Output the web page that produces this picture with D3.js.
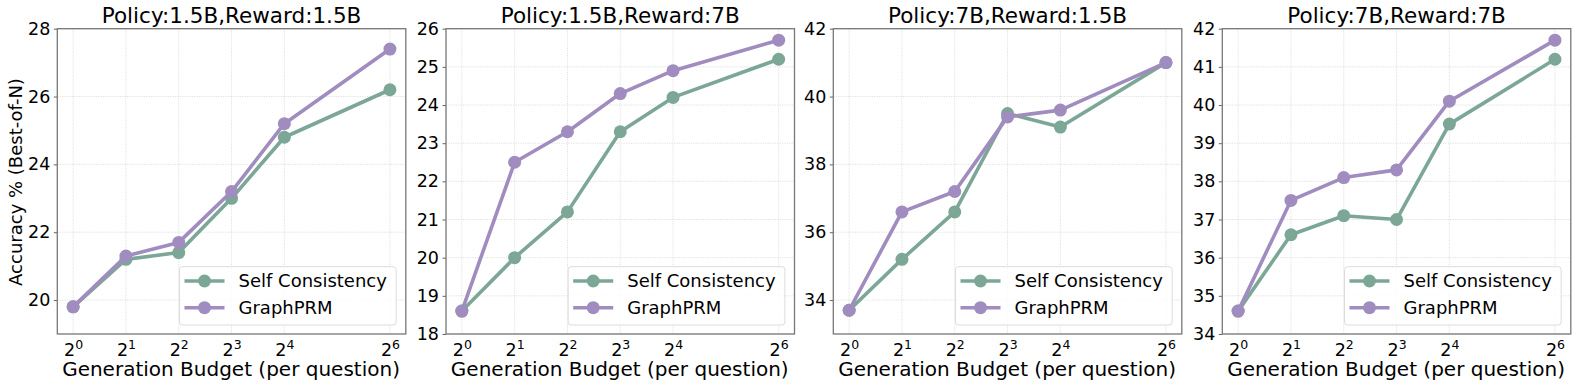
<!DOCTYPE html>
<html>
<head>
<meta charset="utf-8">
<script src="https://cdn.jsdelivr.net/npm/d3@7"></script>
<style>
  html, body { margin: 0; padding: 0; background: #fff; }
  svg { display: block; font-family: "DejaVu Sans", sans-serif; }
</style>
</head>
<body>
<svg id="chart" width="1577" height="389"></svg>
<script>
// budgets (x values, log2 axis)
const budgets = [1, 2, 4, 8, 16, 64];

const titles = [
  "Policy:1.5B,Reward:1.5B",
  "Policy:1.5B,Reward:7B",
  "Policy:7B,Reward:1.5B",
  "Policy:7B,Reward:7B"
];

const selfConsistency = [
  [19.8, 21.2, 21.4, 23.0, 24.8, 26.2],
  [18.6, 20.0, 21.2, 23.3, 24.2, 25.2],
  [33.7, 35.2, 36.6, 39.5, 39.1, 41.0],
  [34.6, 36.6, 37.1, 37.0, 39.5, 41.2]
];

const graphPRM = [
  [19.8, 21.3, 21.7, 23.2, 25.2, 27.4],
  [18.6, 22.5, 23.3, 24.3, 24.9, 25.7],
  [33.7, 36.6, 37.2, 39.4, 39.6, 41.0],
  [34.6, 37.5, 38.1, 38.3, 40.1, 41.7]
];

const yDomains = [[19, 28], [18, 26], [33, 42], [34, 42]];
const yTicks = [
  [20, 22, 24, 26, 28],
  [18, 19, 20, 21, 22, 23, 24, 25, 26],
  [34, 36, 38, 40, 42],
  [34, 35, 36, 37, 38, 39, 40, 41, 42]
];

const seriesNames = ["Self Consistency", "GraphPRM"];
const colors = ["#7ca796", "#a08cbf"];

const svg = d3.select("#chart");
const panelLefts = [57.3, 446, 833.3, 1222.3];
const panelW = 348.5;
const plotTop = 28.7, plotBottom = 334;

panelLefts.forEach((left, i) => {
  const g = svg.append("g").attr("transform", `translate(${left},${plotTop})`);
  const h = plotBottom - plotTop;

  const x = d3.scaleLog().base(2)
    .domain([Math.pow(2, -0.3), Math.pow(2, 6.3)])
    .range([0, panelW]);
  const y = d3.scaleLinear().domain(yDomains[i]).range([h, 0]);

  // grid
  g.append("g").selectAll("line").data(budgets).join("line")
    .attr("x1", d => x(d)).attr("x2", d => x(d))
    .attr("y1", 0).attr("y2", h)
    .attr("stroke", "#d8d8d8").attr("stroke-width", 0.8)
    .attr("stroke-dasharray", "1.2,1.2");
  g.append("g").selectAll("line").data(yTicks[i]).join("line")
    .attr("x1", 0).attr("x2", panelW)
    .attr("y1", d => y(d)).attr("y2", d => y(d))
    .attr("stroke", "#d8d8d8").attr("stroke-width", 0.8)
    .attr("stroke-dasharray", "1.2,1.2");

  // y axis
  const yAxis = g.append("g")
    .call(d3.axisLeft(y).tickValues(yTicks[i]).tickSize(3.5).tickPadding(3.5));
  yAxis.select(".domain").remove();
  yAxis.selectAll("line").attr("stroke", "#666");
  yAxis.selectAll("text").attr("font-size", 17.5).attr("fill", "#000")
    .attr("font-family", "DejaVu Sans");

  // x axis (labels as 2^k)
  const xAxis = g.append("g").attr("transform", `translate(0,${h})`)
    .call(d3.axisBottom(x).tickValues(budgets).tickSize(0).tickFormat(""));
  xAxis.select(".domain").remove();
  xAxis.selectAll(".tick").each(function(d) {
    const t = d3.select(this).append("text")
      .attr("y", 21.5).attr("text-anchor", "middle")
      .attr("fill", "#000").attr("font-family", "DejaVu Sans");
    t.append("tspan").attr("font-size", 17.5).text("2");
    t.append("tspan").attr("font-size", 12.5).attr("dy", -7).text(Math.log2(d));
  });

  // frame
  g.append("rect").attr("width", panelW).attr("height", h)
    .attr("fill", "none").attr("stroke", "#777").attr("stroke-width", 1.3);

  // lines and markers
  const line = d3.line().x((d, k) => x(budgets[k])).y(d => y(d));
  [selfConsistency[i], graphPRM[i]].forEach((vals, s) => {
    g.append("path").datum(vals).attr("d", line)
      .attr("fill", "none").attr("stroke", colors[s])
      .attr("stroke-width", 3.6).attr("stroke-linejoin", "round");
    g.append("g").selectAll("circle").data(vals).join("circle")
      .attr("cx", (d, k) => x(budgets[k])).attr("cy", d => y(d))
      .attr("r", 6.5).attr("fill", colors[s]);
  });

  // title
  svg.append("text").attr("x", left + panelW / 2).attr("y", 23)
    .attr("text-anchor", "middle").attr("font-size", 21.5).text(titles[i]);

  // x label
  svg.append("text").attr("x", left + panelW / 2 - 0.5).attr("y", 376)
    .attr("text-anchor", "middle").attr("font-size", 20)
    .text("Generation Budget (per question)");

  // legend
  const lg = g.append("g").attr("transform", `translate(${panelW - 226.3},${h - 67.3})`);
  lg.append("rect").attr("width", 216.7).attr("height", 58.3).attr("rx", 3)
    .attr("fill", "#fff").attr("fill-opacity", 0.8)
    .attr("stroke", "#dcdcdc").attr("stroke-width", 1);
  seriesNames.forEach((name, s) => {
    const cy = 14.3 + s * 26.7;
    lg.append("line").attr("x1", 5).attr("x2", 45).attr("y1", cy).attr("y2", cy)
      .attr("stroke", colors[s]).attr("stroke-width", 3.6);
    lg.append("circle").attr("cx", 25).attr("cy", cy).attr("r", 6.5).attr("fill", colors[s]);
    lg.append("text").attr("x", 59).attr("y", cy + 6.5)
      .attr("font-size", 18).text(name);
  });
});

// y label
svg.append("text")
  .attr("transform", "translate(21.5,182) rotate(-90)")
  .attr("text-anchor", "middle").attr("font-size", 18)
  .text("Accuracy % (Best-of-N)");
</script>
</body>
</html>
